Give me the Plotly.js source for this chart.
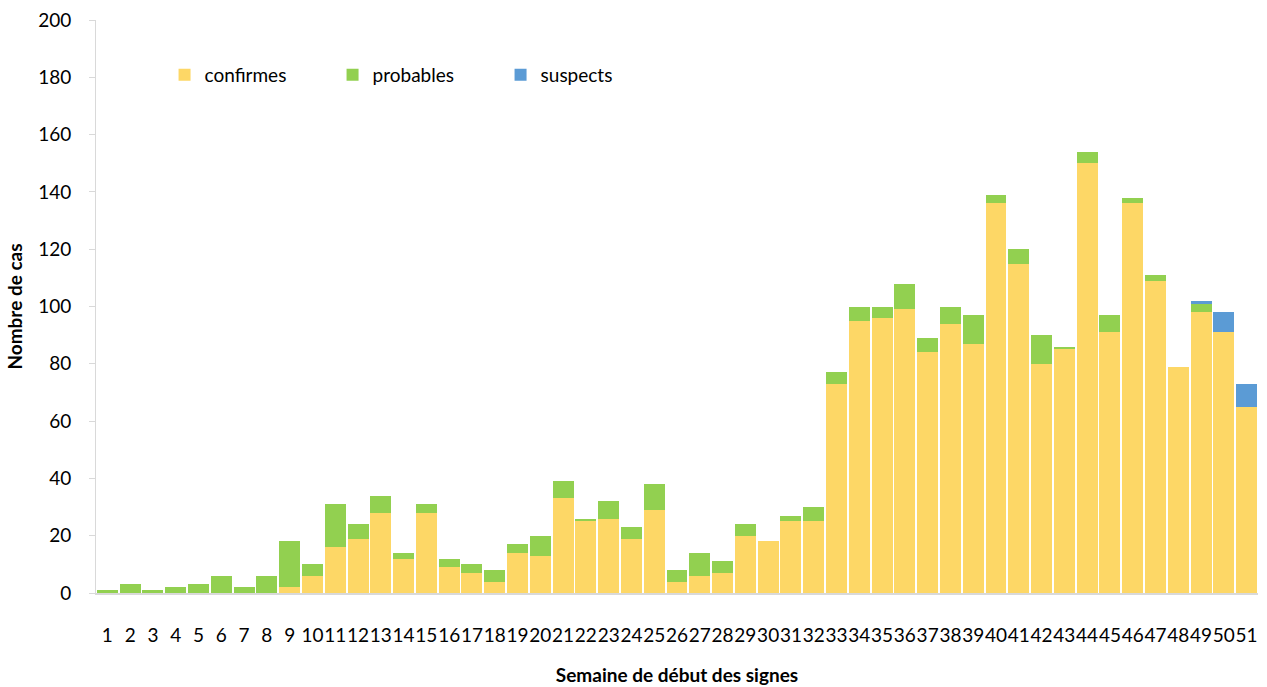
<!DOCTYPE html>
<html><head><meta charset="utf-8">
<script src="https://cdn.plot.ly/plotly-3.0.1.min.js"></script>
<style>html,body{margin:0;padding:0;background:#fff}</style>
</head><body><div id="chart" style="width:1267px;height:687px"></div>
<script>
const weeks = Array.from({length:51},(_,i)=>String(i+1));
const confirmes = [0,0,0,0,0,0,0,0,2,6,16,19,28,12,28,9,7,4,14,13,33,25,26,19,29,4,6,7,20,18,25,25,73,95,96,99,84,94,87,136,115,80,85,150,91,136,109,79,98,91,65];
const probables = [1,3,1,2,3,6,2,6,16,4,15,5,6,2,3,3,3,4,3,7,6,1,6,4,9,4,8,4,4,0,2,5,4,5,4,9,5,6,10,3,5,10,1,4,6,2,2,0,3,0,0];
const suspects  = [0,0,0,0,0,0,0,0,0,0,0,0,0,0,0,0,0,0,0,0,0,0,0,0,0,0,0,0,0,0,0,0,0,0,0,0,0,0,0,0,0,0,0,0,0,0,0,0,1,7,8];
const yTicks = [0,20,40,60,80,100,120,140,160,180,200];

const font = "Lato, 'Open Sans', 'Liberation Sans', sans-serif";
const traces = [
  {name:'confirmes', y:confirmes, color:'#FDD766'},
  {name:'probables', y:probables, color:'#92D050'},
  {name:'suspects', y:suspects, color:'#5B9BD5'}
].map(s=>({type:'bar', x:weeks, y:s.y, name:s.name, marker:{color:s.color, line:{width:0}}, hoverinfo:'x+y+name'}));

const layout = {
  barmode:'stack', bargap:0.08,
  width:1267, height:687,
  margin:{l:96, r:9, t:20, b:94},
  paper_bgcolor:'#fff', plot_bgcolor:'#fff',
  font:{family:font, size:19, color:'#000'},
  showlegend:true,
  legend:{orientation:'h', x:0.059, y:0.904, xanchor:'left', yanchor:'middle',
          entrywidth:123, entrywidthmode:'pixels', font:{size:19}, bgcolor:'rgba(0,0,0,0)', traceorder:'normal'},
  xaxis:{type:'category', showgrid:false, showline:true, linecolor:'#D9D9D9', linewidth:2,
         tickmode:'array', tickvals:weeks, ticktext:weeks,
         ticks:'', tickfont:{size:19}, ticklabelstandoff:24, tickangle:0,
         title:{text:'<b>Semaine de début des signes</b>', font:{size:19}, standoff:24}},
  yaxis:{range:[0,200], tickvals:yTicks, showgrid:false, showline:true, linecolor:'#D9D9D9', linewidth:1,
         ticks:'outside', ticklen:6, tickcolor:'#D9D9D9', tickfont:{size:19}, zeroline:false, ticklabelstandoff:14,
         title:{text:'<b>Nombre de cas</b>', font:{size:19}, standoff:10}}
};
Plotly.newPlot('chart', traces, layout, {displayModeBar:false, staticPlot:true});
</script></body></html>
